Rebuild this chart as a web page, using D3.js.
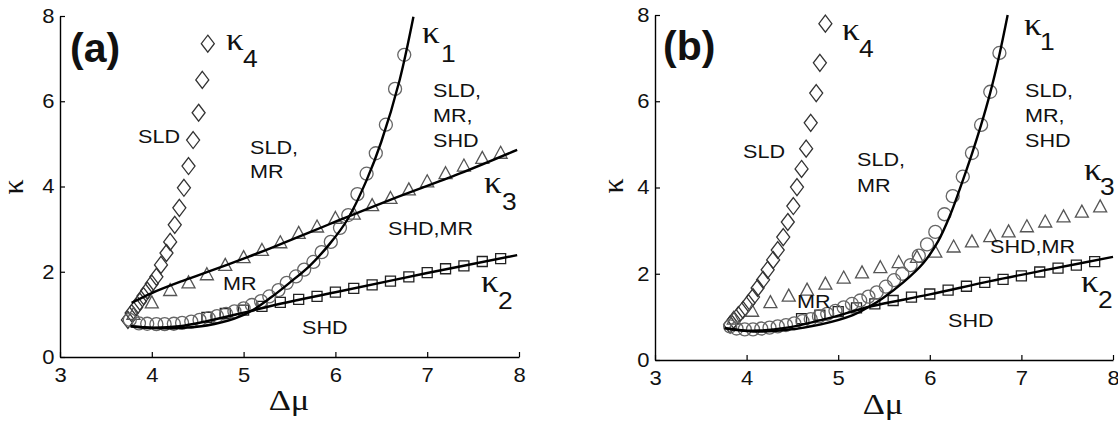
<!DOCTYPE html>
<html>
<head>
<meta charset="utf-8">
<script src="https://cdn.jsdelivr.net/npm/d3@7"></script>
<style>
  body { margin: 0; background: #fff; }
  svg text { fill: #111; }
</style>
</head>
<body>
<div id="container"></div>
<script>
const xTicks = [3, 4, 5, 6, 7, 8];
const yTicks = [0, 2, 4, 6, 8];

// ---- panel (a) ----  [delta mu, kappa]
const a_k4 = [[3.74,0.87],[3.78,1.03],[3.83,1.17],[3.87,1.3],[3.91,1.43],[3.95,1.56],[4.0,1.72],[4.05,1.88],[4.1,2.16],[4.16,2.44],[4.2,2.7],[4.25,3.1],[4.3,3.5],[4.35,3.97],[4.4,4.48],[4.45,5.09],[4.51,5.73],[4.55,6.5],[4.61,7.35]];
const a_k1 = [[3.76,0.87],[3.86,0.79],[3.95,0.78],[4.05,0.77],[4.14,0.77],[4.24,0.78],[4.33,0.8],[4.43,0.83],[4.52,0.87],[4.62,0.91],[4.71,0.96],[4.81,1.01],[4.9,1.07],[5.0,1.14],[5.09,1.22],[5.19,1.31],[5.28,1.42],[5.38,1.57],[5.47,1.74],[5.57,1.89],[5.66,2.05],[5.76,2.23],[5.85,2.46],[5.95,2.7],[6.05,3.03],[6.14,3.33],[6.24,3.82],[6.34,4.3],[6.44,4.78],[6.55,5.45],[6.65,6.29],[6.75,7.09]];
const a_k1_fit = [[3.77,0.72],[4.0,0.68],[4.3,0.68],[4.6,0.74],[4.9,0.9],[5.1,1.1],[5.3,1.4],[5.5,1.74],[5.72,2.14],[5.94,2.66],[6.13,3.22],[6.34,4.15],[6.5,5.05],[6.7,6.5],[6.85,7.98]];
const a_k2 = [[4.6,0.93],[4.8,1.02],[5.0,1.1],[5.2,1.19],[5.4,1.28],[5.6,1.35],[5.8,1.42],[6.0,1.52],[6.2,1.61],[6.4,1.69],[6.6,1.78],[6.8,1.88],[7.0,1.98],[7.2,2.07],[7.4,2.14],[7.6,2.24],[7.8,2.31]];
const a_k2_fit = [[3.77,0.72],[4.0,0.69],[4.3,0.72],[4.6,0.84],[5.0,1.04],[5.4,1.25],[6.0,1.52],[7.0,1.97],[7.98,2.39]];
const a_k3 = [[3.8,1.0],[4.0,1.27],[4.2,1.56],[4.4,1.74],[4.6,1.93],[4.8,2.15],[5.0,2.33],[5.2,2.5],[5.4,2.68],[5.6,2.9],[5.8,3.05],[6.0,3.25],[6.2,3.35],[6.4,3.55],[6.6,3.72],[6.8,3.92],[7.0,4.11],[7.2,4.3],[7.4,4.48],[7.6,4.66],[7.8,4.78]];
const a_k3_fit = [[3.78,1.27],[4.0,1.5],[4.33,1.78],[4.6,1.99],[5.05,2.35],[5.29,2.55],[5.94,3.12],[6.59,3.68],[7.35,4.3],[7.98,4.86]];

// ---- panel (b) ----
const b_k4 = [[3.82,0.82],[3.86,0.93],[3.91,1.04],[3.96,1.16],[4.02,1.32],[4.07,1.46],[4.12,1.67],[4.18,1.86],[4.23,2.09],[4.29,2.32],[4.34,2.55],[4.4,2.85],[4.45,3.2],[4.51,3.57],[4.55,4.01],[4.6,4.43],[4.65,4.9],[4.7,5.5],[4.76,6.19],[4.8,6.89],[4.86,7.8]];
const b_k1 = [[3.82,0.78],[3.89,0.73],[3.98,0.71],[4.07,0.71],[4.16,0.73],[4.25,0.75],[4.34,0.78],[4.43,0.81],[4.52,0.85],[4.61,0.9],[4.7,0.95],[4.79,1.01],[4.88,1.07],[4.97,1.14],[5.06,1.22],[5.15,1.3],[5.24,1.38],[5.33,1.47],[5.42,1.57],[5.52,1.7],[5.61,1.85],[5.7,2.0],[5.79,2.2],[5.88,2.42],[5.97,2.68],[6.06,2.97],[6.16,3.38],[6.25,3.8],[6.36,4.25],[6.46,4.8],[6.56,5.45],[6.66,6.22],[6.76,7.12]];
const b_k1_fit = [[3.76,0.74],[4.07,0.66],[4.44,0.7],[4.8,0.82],[5.16,1.04],[5.35,1.25],[5.49,1.44],[5.71,1.8],[5.93,2.25],[6.09,2.75],[6.22,3.35],[6.33,3.98],[6.46,4.78],[6.56,5.45],[6.66,6.2],[6.76,7.08],[6.85,8.0]];
const b_k2 = [[4.6,0.96],[4.8,1.04],[5.0,1.12],[5.2,1.21],[5.4,1.3],[5.6,1.38],[5.8,1.46],[6.0,1.53],[6.2,1.62],[6.4,1.71],[6.6,1.8],[6.8,1.87],[7.0,1.95],[7.2,2.04],[7.4,2.13],[7.6,2.2],[7.8,2.28]];
const b_k2_fit = [[3.76,0.74],[4.07,0.68],[4.44,0.75],[4.8,0.92],[5.0,1.03],[5.35,1.24],[6.0,1.52],[6.66,1.83],[7.3,2.1],[8.0,2.39]];
const b_k3 = [[3.86,0.95],[4.06,1.13],[4.26,1.33],[4.46,1.48],[4.66,1.62],[4.86,1.76],[5.06,1.9],[5.26,2.02],[5.46,2.14],[5.66,2.26],[5.86,2.38],[6.06,2.5],[6.26,2.62],[6.46,2.74],[6.66,2.86],[6.86,2.97],[7.06,3.09],[7.26,3.2],[7.46,3.32],[7.66,3.43],[7.86,3.55]];

const SANS = "'Liberation Sans', Arial, sans-serif";
const SERIF = "'Liberation Serif', 'Times New Roman', serif";

const svg = d3.select("#container").append("svg")
  .attr("width", 1118).attr("height", 421);

const shapes = {
  diamond: "M0,-8.5L6.5,0L0,8.5L-6.5,0Z",
  triangle: "M0,-7L6.5,5L-6.5,5Z",
  square: "M-5,-5H5V5H-5Z",
};

function txt(g, x, y, s, size, family, sx, weight) {
  return g.append("text")
    .attr("transform", `translate(${x},${y}) scale(${sx || 1},1)`)
    .attr("font-family", family)
    .attr("font-size", size)
    .attr("font-weight", weight || "normal")
    .text(s);
}

function kappa(g, x, y, sub, dx, dy) {
  txt(g, x, y, "κ", 32, SERIF, 1.1);
  txt(g, x + dx, y + dy, sub, 24, SANS, 1.1);
}

function drawPanel(p) {
  const x = d3.scaleLinear().domain([3, 8]).range([p.x0, p.x1]);
  const y = d3.scaleLinear().domain([0, 8]).range([p.y0, p.y1]);
  const g = svg.append("g");

  const xa = g.append("g")
    .attr("transform", `translate(0,${p.y0})`)
    .call(d3.axisBottom(x).tickValues(xTicks).tickSizeInner(-5).tickSizeOuter(0).tickPadding(11).tickFormat(d3.format("d")));
  const ya = g.append("g")
    .attr("transform", `translate(${p.x0},0)`)
    .call(d3.axisLeft(y).tickValues(yTicks).tickSizeInner(-5).tickSizeOuter(0).tickPadding(5).tickFormat(d3.format("d")));
  [xa, ya].forEach(ax => {
    ax.select(".domain").attr("stroke", "#000").attr("stroke-width", 1.4);
    ax.selectAll(".tick line").attr("stroke", "#000").attr("stroke-width", 1.2);
    ax.selectAll(".tick text")
      .attr("font-family", SANS).attr("font-size", 20).attr("fill", "#111")
      .attr("transform", "scale(1.1,1)");
  });

  // markers
  const mk = (data, shape, color) => {
    g.append("g").selectAll("path").data(data).join("path")
      .attr("d", shapes[shape])
      .attr("transform", d => `translate(${x(d[0])},${y(d[1])})`)
      .attr("fill", "none").attr("stroke", color).attr("stroke-width", 1.3);
  };
  mk(p.k4, "diamond", "#333");
  mk(p.k3, "triangle", "#555");
  mk(p.k2, "square", "#222");
  g.append("g").selectAll("circle").data(p.k1).join("circle")
    .attr("cx", d => x(d[0])).attr("cy", d => y(d[1])).attr("r", 6.5)
    .attr("fill", "none").attr("stroke", "#666").attr("stroke-width", 1.3);

  const line = d3.line().x(d => x(d[0])).y(d => y(d[1])).curve(d3.curveCatmullRom.alpha(0.5));
  p.fits.forEach(f => {
    g.append("path").datum(f).attr("d", line)
      .attr("fill", "none").attr("stroke", "#000").attr("stroke-width", 2.4);
  });

  // axis titles
  g.append("text")
    .attr("transform", `translate(${p.yl[0]},${p.yl[1]}) rotate(-90)`)
    .attr("text-anchor", "middle").attr("font-family", SERIF).attr("font-size", 30)
    .text("κ");
  g.append("text")
    .attr("transform", `translate(${p.xl[0]},${p.xl[1]}) scale(1.15,1)`)
    .attr("text-anchor", "middle").attr("font-family", SERIF).attr("font-size", 30)
    .text("Δμ");

  txt(g, p.tag[0], p.tag[1], p.name, 41, SANS, 1, "bold");
  p.words.forEach(w => txt(g, w[0], w[1], w[2], 18, SANS, 1.2));
  p.kap.forEach(k => kappa(g, k[0], k[1], k[2], k[3], k[4]));
}

drawPanel({
  name: "(a)", x0: 60, x1: 519, y0: 357, y1: 16,
  k1: a_k1, k2: a_k2, k3: a_k3, k4: a_k4,
  fits: [a_k2_fit, a_k3_fit, a_k1_fit],
  tag: [70, 62], yl: [23, 187], xl: [289, 410],
  words: [[138, 143, "SLD"], [250, 154, "SLD,"], [250, 178, "MR"],
          [433, 97, "SLD,"], [433, 122, "MR,"], [433, 147, "SHD"],
          [223, 290, "MR"], [388, 235, "SHD,MR"], [302, 334, "SHD"]],
  kap: [[226, 50, "4", 17, 17], [422, 43, "1", 19, 19], [484, 193, "3", 18, 17], [481, 292, "2", 17, 17]],
});

drawPanel({
  name: "(b)", x0: 655, x1: 1113, y0: 360, y1: 15,
  k1: b_k1, k2: b_k2, k3: b_k3, k4: b_k4,
  fits: [b_k2_fit, b_k1_fit],
  tag: [663, 60], yl: [623, 186], xl: [883, 414],
  words: [[743, 158, "SLD"], [857, 166, "SLD,"], [857, 192, "MR"],
          [1025, 97, "SLD,"], [1025, 122, "MR,"], [1025, 147, "SHD"],
          [797, 308, "MR"], [990, 253, "SHD,MR"], [948, 327, "SHD"]],
  kap: [[842, 40, "4", 17, 17], [1024, 35, "1", 16, 15], [1084, 180, "3", 16, 15], [1081, 292, "2", 17, 16]],
});
</script>
</body>
</html>
